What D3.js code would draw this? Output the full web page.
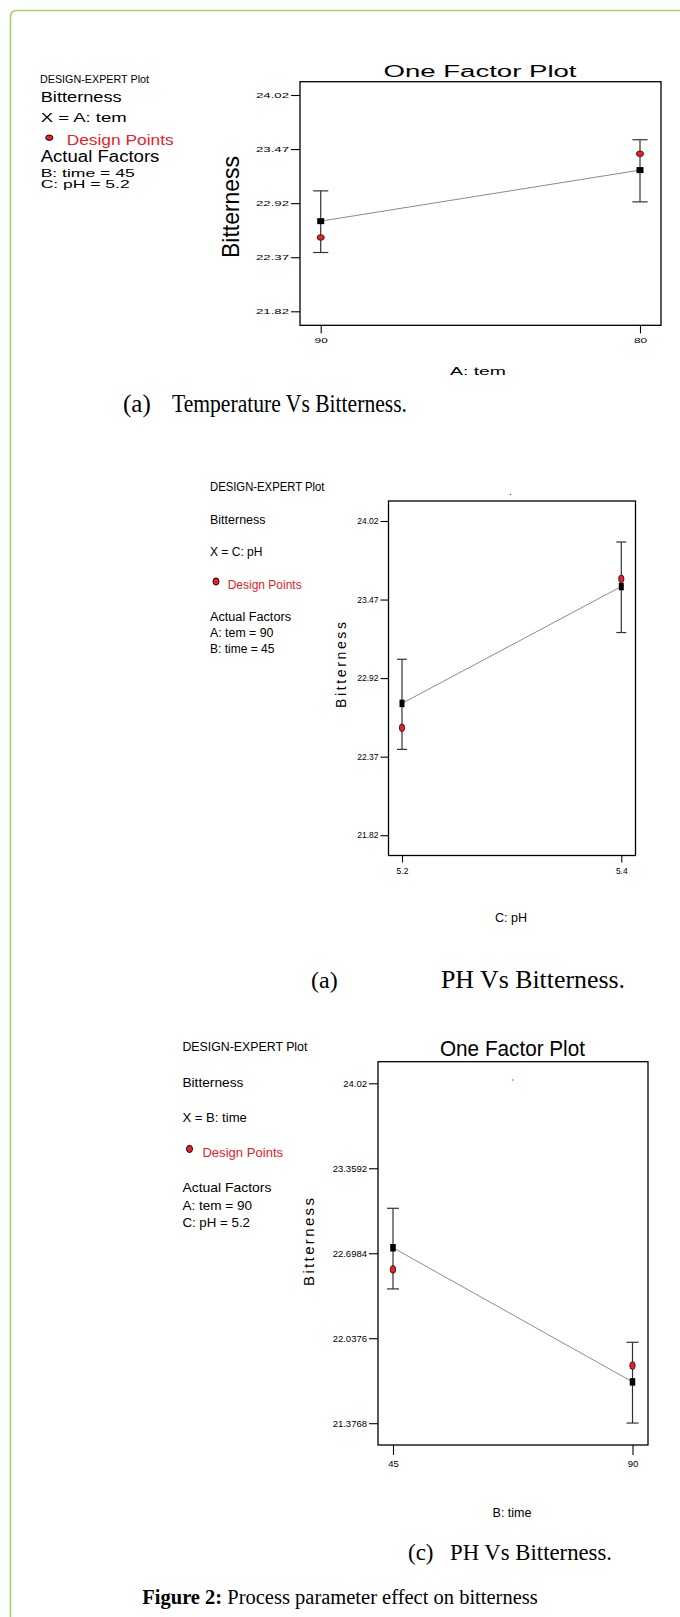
<!DOCTYPE html>
<html>
<head>
<meta charset="utf-8">
<script src="https://cdn.jsdelivr.net/npm/d3@7/dist/d3.min.js"></script>
<style>
  body { margin: 0; background: #fff; }
  svg text { font-family: "Liberation Sans", Arial, sans-serif; }
</style>
</head>
<body>
<svg id="fig" width="680" height="1617"></svg>
<script>
// (a) temperature vs bitterness
const temLevels = ["90", "80"];
const temMeans = [22.737, 23.256];
const temLow = [22.418, 22.933];
const temHigh = [23.045, 23.565];
const temPoints = [22.571, 23.422];
const temTicks = [21.82, 22.37, 22.92, 23.47, 24.02];

// (b) pH vs bitterness
const phLevels = ["5.2", "5.4"];
const phMeans = [22.743, 23.561];
const phLow = [22.421, 23.239];
const phHigh = [23.052, 23.873];
const phPoints = [22.572, 23.615];
const phTicks = [21.82, 22.37, 22.92, 23.47, 24.02];

// (c) time vs bitterness
const timeLevels = ["45", "90"];
const timeMeans = [22.741, 21.698];
const timeLow = [22.421, 21.378];
const timeHigh = [23.048, 22.006];
const timePoints = [22.5725, 21.825];
const timeTicks = [21.3768, 22.0376, 22.6984, 23.3592, 24.02];

const RED = "#e5222a";
const svg = d3.select("#fig");

// green frame of the page box
svg.append("path")
  .attr("d", "M10.5,1620 V17 Q10.5,10.5 17,10.5 H690")
  .attr("fill", "none")
  .attr("stroke", "#a3d46c")
  .attr("stroke-width", 1.6);

// cut-off heading at the very top (only its lowest pixels show)
svg.append("text")
  .attr("x", 34).attr("y", -0.5)
  .attr("font-size", 22).attr("font-weight", "bold")
  .attr("fill", "#666")
  .text("Results and Discussion");

function addText(g, t) {
  const el = g.append("text")
    .attr("x", t.x).attr("y", t.y)
    .attr("font-size", t.fs)
    .attr("fill", t.color || "#000")
    .text(t.text);
  if (t.w) el.attr("textLength", t.w).attr("lengthAdjust", t.adjust || "spacingAndGlyphs");
  if (t.anchor) el.attr("text-anchor", t.anchor);
  if (t.family) el.style("font-family", t.family);
  return el;
}

function drawPanel(p) {
  const g = svg.append("g");
  const x = d3.scalePoint().domain(p.levels).range(p.xRange);
  const y = d3.scaleLinear()
    .domain([p.ticks[0], p.ticks[p.ticks.length - 1]])
    .range(p.yRange);

  // frame
  g.append("rect")
    .attr("x", p.box[0]).attr("y", p.box[1])
    .attr("width", p.box[2] - p.box[0]).attr("height", p.box[3] - p.box[1])
    .attr("fill", "none").attr("stroke", "#000").attr("stroke-width", 1.3);

  // y axis
  const ya = g.append("g")
    .attr("transform", "translate(" + p.box[0] + ",0)")
    .call(d3.axisLeft(y).tickValues(p.ticks).tickFormat(d => String(d))
      .tickSize(p.tickLen).tickPadding(2));
  ya.select(".domain").remove();
  ya.selectAll("line").attr("stroke", "#000").attr("stroke-width", 1.1);
  ya.selectAll("text")
    .attr("font-size", p.tickFs)
    .style("font-family", "'Liberation Sans', Arial, sans-serif")
    .each(function () {
      const s = d3.select(this);
      if (p.tickChar) s.attr("textLength", s.text().length * p.tickChar).attr("lengthAdjust", "spacingAndGlyphs");
    });

  // x axis
  const xa = g.append("g")
    .attr("transform", "translate(0," + p.box[3] + ")")
    .call(d3.axisBottom(x).tickSize(p.xTickLen).tickPadding(p.xPad));
  xa.select(".domain").remove();
  xa.selectAll("line").attr("stroke", "#000").attr("stroke-width", 1.1);
  xa.selectAll("text")
    .attr("font-size", p.tickFs)
    .style("font-family", "'Liberation Sans', Arial, sans-serif")
    .each(function () {
      const s = d3.select(this);
      if (p.tickChar) s.attr("textLength", s.text().length * p.tickChar).attr("lengthAdjust", "spacingAndGlyphs");
    });

  // connecting line of the predicted means
  g.append("path")
    .datum(p.means)
    .attr("d", d3.line().x((d, i) => x(p.levels[i])).y(d => y(d)))
    .attr("fill", "none").attr("stroke", "#8a8a8a").attr("stroke-width", 1);

  // error bars
  p.levels.forEach((lv, i) => {
    const cx = x(lv);
    g.append("line").attr("x1", cx).attr("x2", cx)
      .attr("y1", y(p.low[i])).attr("y2", y(p.high[i]))
      .attr("stroke", "#333").attr("stroke-width", 1.2);
    [p.low[i], p.high[i]].forEach(v => {
      g.append("line").attr("x1", cx - p.cap).attr("x2", cx + p.cap)
        .attr("y1", y(v)).attr("y2", y(v))
        .attr("stroke", "#333").attr("stroke-width", 1.2);
    });
  });

  // mean squares
  g.selectAll(".sq").data(p.means).enter().append("rect")
    .attr("x", (d, i) => x(p.levels[i]) - p.sq[0] / 2)
    .attr("y", d => y(d) - p.sq[1] / 2)
    .attr("width", p.sq[0]).attr("height", p.sq[1])
    .attr("fill", "#000");

  // design points
  g.selectAll(".pt").data(p.points).enter().append("ellipse")
    .attr("cx", (d, i) => x(p.levels[i]))
    .attr("cy", d => y(d))
    .attr("rx", p.dot[0]).attr("ry", p.dot[1])
    .attr("fill", RED).attr("stroke", "#300").attr("stroke-width", 0.8);

  // titles
  p.texts.forEach(t => addText(g, t));
  g.append("text")
    .attr("transform", "translate(" + p.yLabel.x + "," + p.yLabel.y + ") rotate(-90)")
    .attr("text-anchor", "middle")
    .attr("font-size", p.yLabel.fs)
    .attr("textLength", p.yLabel.w)
    .attr("lengthAdjust", p.yLabel.adjust)
    .text("Bitterness");

  // legend block
  p.legend.forEach(t => addText(g, t));
  g.append("ellipse")
    .attr("cx", p.marker[0]).attr("cy", p.marker[1])
    .attr("rx", p.marker[2]).attr("ry", p.marker[3])
    .attr("fill", RED).attr("stroke", "#200").attr("stroke-width", 1);
  return g;
}

// panel (a)
drawPanel({
  levels: temLevels, means: temMeans, low: temLow, high: temHigh, points: temPoints, ticks: temTicks,
  box: [300, 81.7, 661, 325.3], xRange: [320.7, 640], yRange: [311.3, 95],
  tickLen: 9, xTickLen: 8, xPad: 4, tickFs: 7.5, tickChar: 6.6,
  cap: 7.6, sq: [7, 6], dot: [3.6, 2.8],
  yLabel: { x: 239, y: 207, fs: 24, w: 102, adjust: "spacingAndGlyphs" },
  texts: [
    { text: "One Factor Plot", x: 480, y: 76.7, fs: 16, w: 193, anchor: "middle" },
    { text: "A: tem", x: 478, y: 375, fs: 11.5, w: 56, anchor: "middle" }
  ],
  marker: [49.3, 137.7, 3.6, 2.7],
  legend: [
    { text: "DESIGN-EXPERT Plot", x: 40, y: 83.3, fs: 11, w: 109 },
    { text: "Bitterness", x: 40.7, y: 101.7, fs: 14, w: 81 },
    { text: "X = A: tem", x: 40.7, y: 122.3, fs: 12.5, w: 86 },
    { text: "Design Points", x: 66.7, y: 145, fs: 14, w: 107, color: RED },
    { text: "Actual Factors", x: 40.7, y: 161.7, fs: 16, w: 118.7 },
    { text: "B: time = 45", x: 40.7, y: 177.3, fs: 11.5, w: 94 },
    { text: "C: pH = 5.2", x: 40.7, y: 188.3, fs: 11.5, w: 89 }
  ]
});

// panel (b)
drawPanel({
  levels: phLevels, means: phMeans, low: phLow, high: phHigh, points: phPoints, ticks: phTicks,
  box: [388.5, 501, 635.5, 855.5], xRange: [402, 621.3], yRange: [835.2, 521],
  tickLen: 8, xTickLen: 7, xPad: 5, tickFs: 8.5, tickChar: 0,
  cap: 5, sq: [5, 7.5], dot: [2.7, 3.8],
  yLabel: { x: 346, y: 665, fs: 14, w: 86, adjust: "spacing" },
  texts: [
    { text: ".", x: 510.5, y: 495, fs: 10, anchor: "middle" },
    { text: "C: pH", x: 511, y: 922, fs: 12.5, anchor: "middle" }
  ],
  marker: [216, 581.5, 3, 3.6],
  legend: [
    { text: "DESIGN-EXPERT Plot", x: 210, y: 491, fs: 12, w: 114.5 },
    { text: "Bitterness", x: 210, y: 524, fs: 12.5, w: 55.5 },
    { text: "X = C: pH", x: 210, y: 556, fs: 12.5, w: 52.5 },
    { text: "Design Points", x: 227.7, y: 589, fs: 12.5, w: 74, color: RED },
    { text: "Actual Factors", x: 210, y: 621, fs: 12.5, w: 81 },
    { text: "A: tem = 90", x: 210, y: 637, fs: 12.5, w: 63.5 },
    { text: "B: time = 45", x: 210, y: 653.4, fs: 12.5, w: 64.5 }
  ]
});

// panel (c)
drawPanel({
  levels: timeLevels, means: timeMeans, low: timeLow, high: timeHigh, points: timePoints, ticks: timeTicks,
  box: [378, 1061.7, 648, 1445], xRange: [393, 632.5], yRange: [1423.2, 1083.3],
  tickLen: 9, xTickLen: 10, xPad: 5, tickFs: 9.5, tickChar: 0,
  cap: 6, sq: [5.5, 7.5], dot: [2.7, 3.9],
  yLabel: { x: 314, y: 1242, fs: 15, w: 88, adjust: "spacing" },
  texts: [
    { text: "One Factor Plot", x: 512.5, y: 1055.6, fs: 22, w: 145, anchor: "middle" },
    { text: "B: time", x: 512, y: 1517, fs: 12.5, anchor: "middle" }
  ],
  marker: [189.5, 1148.9, 3, 3.6],
  legend: [
    { text: "DESIGN-EXPERT Plot", x: 182.4, y: 1050.5, fs: 12, w: 125 },
    { text: "Bitterness", x: 182.4, y: 1086.7, fs: 13, w: 61 },
    { text: "X = B: time", x: 182.4, y: 1121.5, fs: 13, w: 64.5 },
    { text: "Design Points", x: 202.4, y: 1157.3, fs: 13, w: 80.7, color: RED },
    { text: "Actual Factors", x: 182.4, y: 1192.4, fs: 13, w: 89 },
    { text: "A: tem = 90", x: 182.4, y: 1210, fs: 13, w: 69.6 },
    { text: "C: pH = 5.2", x: 182.4, y: 1227.2, fs: 13, w: 67.6 }
  ]
});

// stray red speck near the top of panel (c)
svg.append("rect").attr("x", 512).attr("y", 1079.5).attr("width", 1.5).attr("height", 1).attr("fill", RED);

// captions
const serif = "'Liberation Serif', 'Times New Roman', serif";
const caps = svg.append("g").style("font-family", serif);
[
  { text: "(a)", x: 123, y: 411.5, fs: 25, family: serif },
  { text: "Temperature Vs Bitterness.", x: 172, y: 411.5, fs: 25, w: 235, family: serif },
  { text: "(a)", x: 311, y: 988, fs: 24, family: serif },
  { text: "PH Vs Bitterness.", x: 441, y: 988, fs: 25, w: 184, family: serif },
  { text: "(c)", x: 408, y: 1560, fs: 23, family: serif },
  { text: "PH Vs Bitterness.", x: 450, y: 1560, fs: 23, w: 162, family: serif }
].forEach(t => addText(caps, t));

const fig = caps.append("text")
  .attr("x", 340).attr("y", 1604)
  .attr("text-anchor", "middle")
  .attr("font-size", 20.5)
  .style("font-family", serif);
fig.append("tspan").attr("font-weight", "bold").text("Figure 2:");
fig.append("tspan").text(" Process parameter effect on bitterness");
</script>
</body>
</html>
